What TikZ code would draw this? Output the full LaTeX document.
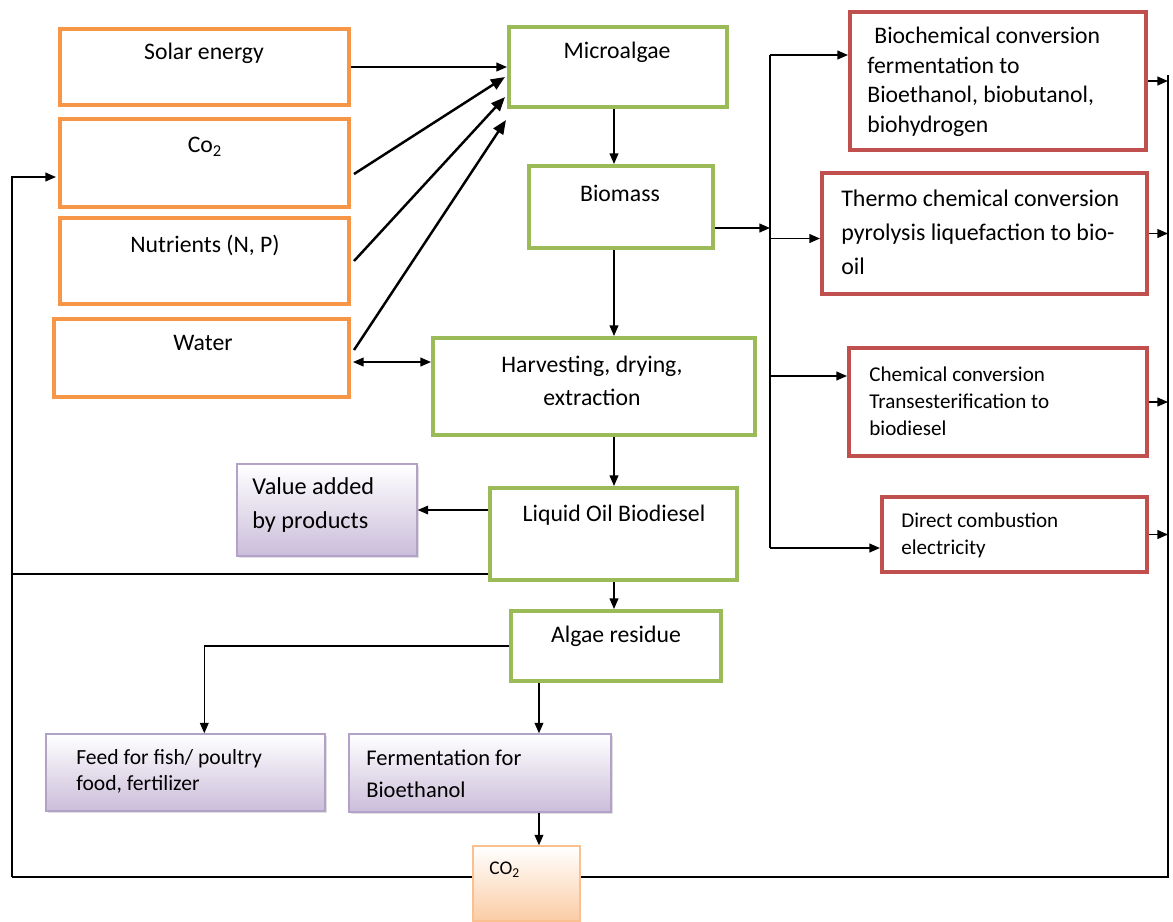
\documentclass[tikz,border=0pt]{standalone}
\usepackage{fontspec}
\setmainfont{Carlito}
\usetikzlibrary{arrows.meta,calc,fit,shadows}
\definecolor{sunorange}{HTML}{F79646}
\definecolor{algaegreen}{HTML}{9BBB59}
\definecolor{convred}{HTML}{C0504D}
\definecolor{lilacline}{HTML}{B3A2C7}
\definecolor{lilacfill}{HTML}{CABDDA}
\definecolor{peachline}{HTML}{FAC090}
\definecolor{peachfill}{HTML}{FBCCA4}
\tikzset{
  inbox/.style={draw=sunorange, line width=2.3pt, inner sep=0pt},
  algbox/.style={draw=algaegreen, line width=2.3pt, inner sep=0pt},
  convbox/.style={draw=convred, line width=2.3pt, inner sep=0pt},
  lilacbox/.style={draw=lilacline, line width=0.8pt, inner sep=0pt, top color=white, bottom color=lilacfill,
    drop shadow={shadow xshift=1pt, shadow yshift=-1.2pt, fill=black!25, opacity=0.5}},
  peachbox/.style={draw=peachline, line width=0.8pt, inner sep=0pt, top color=white, bottom color=peachfill},
  txt/.style={inner sep=0pt, font=\fontsize{13.5}{19}\selectfont},
  arr/.style={-{Triangle[length=6pt,width=5pt]}, line width=0.8pt},
  bigarr/.style={-{Triangle[length=8pt,width=6.5pt]}, line width=1.4pt},
  link/.style={line width=0.8pt}
}
\begin{document}
\begin{tikzpicture}[x=0.02cm, y=-0.02cm]
\useasboundingbox (0,0) rectangle (1173,921);
% inputs
\node[inbox, fit={(60,29) (349,105)}] (solar) {};
\node[inbox, fit={(60,119) (349,207)}] (co2) {};
\node[inbox, fit={(60,218) (349,304)}] (nutr) {};
\node[inbox, fit={(54,319) (349,397)}] (water) {};
\node[txt] (solarT) at (204,53) {Solar energy};
\node[txt] (co2T) at (205,147) {Co\textsubscript{2}};
\node[txt] (nutrT) at (205,245) {Nutrients (N, P)};
\node[txt] (waterT) at (203,343) {Water};
% main chain
\node[algbox, fit={(509,27) (727,107)}] (micro) {};
\node[algbox, fit={(529,166) (713,248)}] (biomass) {};
\node[algbox, fit={(433,338) (755,435)}] (harv) {};
\node[algbox, fit={(490,488) (737,580)}] (liquid) {};
\node[algbox, fit={(511,611) (721,681)}] (residue) {};
\node[txt] (microT) at (617,52) {Microalgae};
\node[txt] (biomassT) at (620,193) {Biomass};
\node[txt, align=center, font=\fontsize{13.5}{18.7}\selectfont] (harvT) at (592,381) {Harvesting, drying,\\extraction};
\node[txt] (liquidT) at (614,515) {Liquid Oil Biodiesel};
\node[txt] (residueT) at (616,636) {Algae residue};
% conversion routes
\node[convbox, fit={(850,12) (1146,150)}] (bio) {};
\node[convbox, fit={(822,173) (1147,294)}] (thermo) {};
\node[convbox, fit={(849,348) (1147,456)}] (chem) {};
\node[convbox, fit={(882,497) (1147,572)}] (direct) {};
\node[txt, anchor=west, align=left, font=\fontsize{13.5}{16.8}\selectfont] (bioT) at (867,82)
  {\hspace{4pt}Biochemical conversion\\fermentation to\\Bioethanol, biobutanol,\\biohydrogen};
\node[txt, anchor=west, align=left, font=\fontsize{13.6}{19.3}\selectfont] (thermoT) at (841,232)
  {Thermo chemical conversion\\pyrolysis liquefaction to bio-\\oil};
\node[txt, anchor=west, align=left, font=\fontsize{12}{15.3}\selectfont] (chemT) at (869,401)
  {Chemical conversion\\Transesterification to\\biodiesel};
\node[txt, anchor=west, align=left, font=\fontsize{12}{15.3}\selectfont] (directT) at (901,535)
  {Direct combustion\\electricity};
% products
\node[lilacbox, fit={(237,464) (417,556)}] (value) {};
\node[lilacbox, fit={(46,734) (325,811)}] (feed) {};
\node[lilacbox, fit={(349,734) (611,812)}] (ferm) {};
\node[peachbox, fit={(473,846) (580,921)}] (co2b) {};
\node[txt, anchor=west, align=left, font=\fontsize{13.8}{19.8}\selectfont] (valueT) at (252,505)
  {Value added\\by products};
\node[txt, anchor=west, align=left, font=\fontsize{12.3}{14.7}\selectfont] (feedT) at (76,771)
  {Feed for fish/ poultry\\food, fertilizer};
\node[txt, anchor=west, align=left, font=\fontsize{12.8}{18}\selectfont] (fermT) at (366,774)
  {Fermentation for\\Bioethanol};
\node[txt, anchor=west, font=\fontsize{11}{13}\selectfont] (co2bT) at (489,870) {CO\textsubscript{2}};
% helper points
\coordinate (spine) at (614,0);
\coordinate (busTop) at (770,55);
\coordinate (busBot) at (770,548);
\coordinate (rbusTop) at (1168,75);
\coordinate (rbusBot) at (1168,877);
\coordinate (lbusBot) at (12,877);
\coordinate (co2In) at ($(co2.west)+(-2,14)$);
\coordinate (liqOut) at ($(liquid.south west)+(0,-8)$);
\coordinate (chemIn) at ($(chem.north west)+(0,30)$);
\coordinate (thermoIn) at ($(thermo.west)+(0,5)$);
\coordinate (feedIn) at ($(feed.north west)+(159,0)$);
\coordinate (resOut) at ($(residue.south west)+(30,0)$);
\coordinate (waterOut) at ($(water.east)+(2,4)$);
\coordinate (bioOut) at ($(biomass.east)+(0,21)$);
% connectors
\draw[arr] (solar.east) -- (solar.east -| micro.west);
\draw[bigarr] ($(co2.east)+(3,11)$) -- ($(micro.west)+(-2,10)$);
\draw[bigarr] ($(nutr.east)+(3,0)$) -- ($(micro.west)+(-2,30)$);
\draw[bigarr] ($(water.east)+(3,-8)$) -- ($(micro.south west)+(-1,11)$);
\draw[arr, {Triangle[length=6pt,width=5pt]}-{Triangle[length=6pt,width=5pt]}] (waterOut) -- (waterOut -| harv.west);
\draw[arr] (micro.south -| spine) -- (biomass.north -| spine);
\draw[arr] (biomass.south -| spine) -- (harv.north -| spine);
\draw[arr] (harv.south -| spine) -- (liquid.north -| spine);
\draw[arr] (liquid.south -| spine) -- (residue.north -| spine);
\draw[arr] (liquid.west |- value.east) -- (value.east);
\draw[arr] (residue.west) -| (feedIn);
\draw[arr] (resOut) -- (resOut |- ferm.north);
\draw[arr] (resOut |- ferm.south) -- (resOut |- co2b.north);
\draw[arr] (bioOut) -- (bioOut -| busTop);
\draw[link] (busTop) -- (busBot);
\draw[arr] (busTop) -- (busTop -| bio.west);
\draw[arr] (busTop |- thermoIn) -- (thermoIn);
\draw[arr] (busTop |- chemIn) -- (chemIn);
\draw[arr] (busBot) -- (busBot -| direct.west);
\draw[arr] (bio.east) -- (bio.east -| rbusTop);
\draw[arr] (thermo.east) -- (thermo.east -| rbusTop);
\draw[arr] (chem.east) -- (chem.east -| rbusTop);
\draw[arr] (direct.east) -- (direct.east -| rbusTop);
\draw[link] (rbusTop) -- (rbusBot) -- (rbusBot -| co2b.east);
\draw[link] (co2b.west |- lbusBot) -- (lbusBot);
\draw[arr] (lbusBot) |- (co2In);
\draw[link] (liqOut) -- (liqOut -| lbusBot);
\end{tikzpicture}
\end{document}
